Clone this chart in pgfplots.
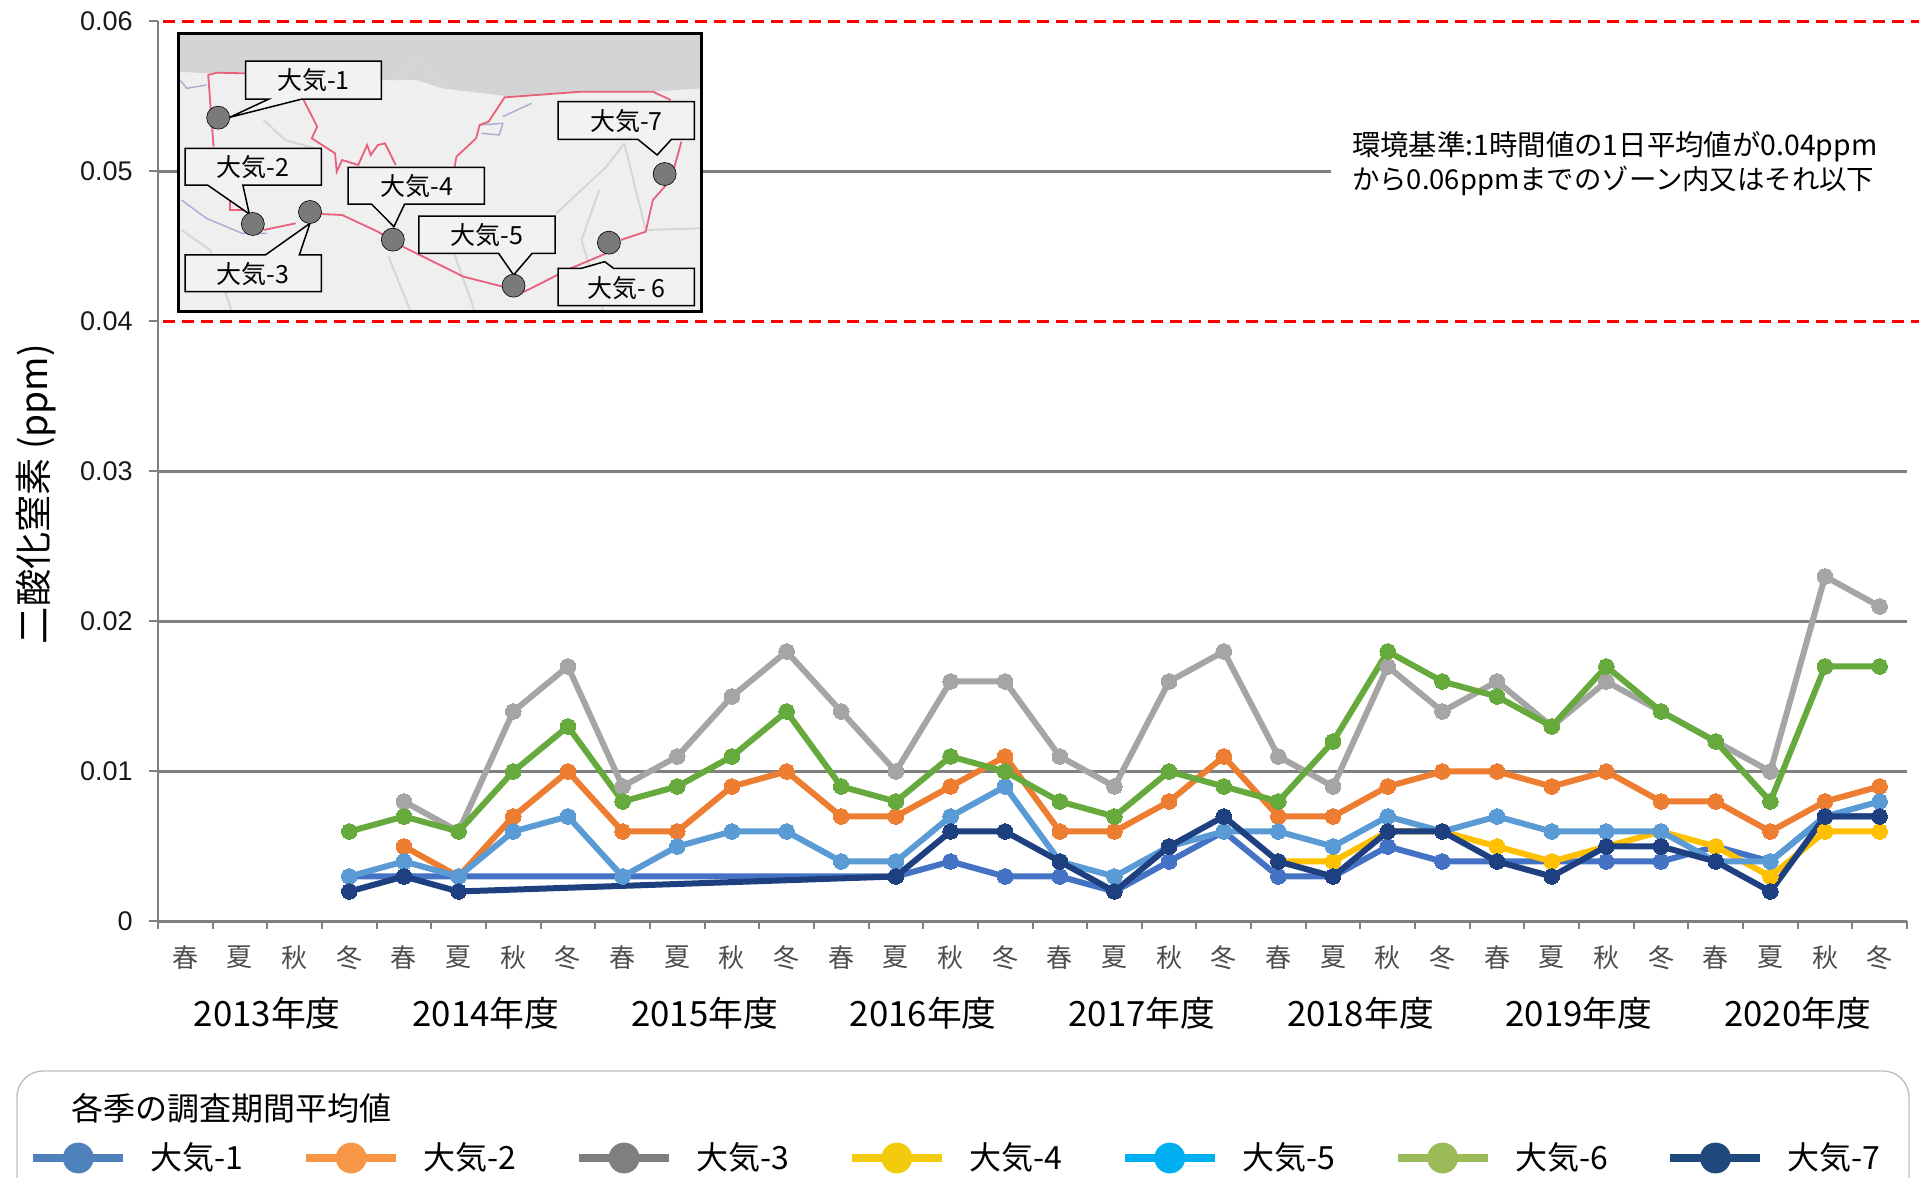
\documentclass[border=0pt]{standalone}
\usepackage{fontspec}
\usepackage{pgfplots}
\pgfplotsset{compat=1.18}
\setmainfont{Noto Sans CJK JP}
\newfontfamily\lib{Liberation Sans}

% one reference pixel = 0.5pt
\definecolor{cA}{HTML}{4472C4}
\definecolor{cB}{HTML}{ED7D31}
\definecolor{cC}{HTML}{A5A5A5}
\definecolor{cD}{HTML}{FFC000}
\definecolor{cE}{HTML}{5B9BD5}
\definecolor{cF}{HTML}{66A93C}
\definecolor{cG}{HTML}{1F4080}
\definecolor{gridc}{HTML}{808080}
\definecolor{redl}{HTML}{FF0000}
\definecolor{callout}{HTML}{F2F2F2}
\definecolor{land}{HTML}{EFEFEF}
\definecolor{sea}{HTML}{D3D4D6}
\definecolor{border}{HTML}{E8607A}
\definecolor{road}{HTML}{D6D6D6}
\definecolor{river}{HTML}{A8ACD0}

\pgfplotsset{
  ser/.style={forget plot,color=#1,line width=3pt,mark=*,mark size=3.9pt,
    mark options={draw=#1,fill=#1,line width=0pt,solid}},
  gl/.style={forget plot,color=gridc,line width=1.1pt,no markers},
  rl/.style={forget plot,color=redl,line width=1.5pt,no markers,dash pattern=on 6pt off 3.5pt},
}

\begin{document}
\begin{tikzpicture}
\useasboundingbox (-79pt,-128.25pt) rectangle (880.5pt,460.75pt);

% legend frame, in reference pixels
\begin{scope}[shift={(-79pt,460.75pt)},x=0.5pt,y=-0.5pt]
  \draw[color=black!25,line width=0.7pt,rounded corners=13pt] (17,1178) -- (17,1071) -- (1909,1071) -- (1909,1178);
  \node[anchor=west,inner sep=0pt,font=\fontsize{16}{18}\selectfont] at (71,1108) {各季の調査期間平均値};
\end{scope}

\begin{axis}[
    at={(0pt,0pt)},anchor=south west,
    scale only axis,
    width=874.5pt,height=450pt,
    xmin=-0.5,xmax=31.5,
    ymin=0,ymax=0.06,
    clip=false,
    axis x line*=bottom,
    axis y line*=left,
    axis line style={-,color=gridc,line width=1.1pt},
    tick align=outside,
    major tick length=4.5pt,
    minor tick length=4pt,
    tick style={color=gridc,line width=1pt},
    major x tick style={draw=none},
    xtick={0,...,31},
    xticklabels={春,夏,秋,冬,春,夏,秋,冬,春,夏,秋,冬,春,夏,秋,冬,春,夏,秋,冬,春,夏,秋,冬,春,夏,秋,冬,春,夏,秋,冬},
    minor xtick={-0.5,0.5,...,31.5},
    xticklabel style={font=\fontsize{13}{15}\selectfont,text=black!70,inner sep=0pt,yshift=-7.5pt},
    ytick={0,0.01,0.02,0.03,0.04,0.05,0.06},
    yticklabels={0,0.01,0.02,0.03,0.04,0.05,0.06},
    yticklabel style={font=\lib\fontsize{13.5}{15}\selectfont,text=black!90,inner sep=0pt,xshift=-8pt},
    scaled y ticks=false,
    ylabel={二酸化窒素 (ppm)},
    every axis y label/.style={at={(axis description cs:-0.0698,0.475)},rotate=90,anchor=center,font=\fontsize{18.6}{21}\selectfont},
    legend columns=7,
    legend cell align=left,
    legend image code/.code={
      \draw[#1,line width=4pt] (0pt,0pt) -- (45pt,0pt);
      \fill[#1] (22.5pt,0pt) circle (7.5pt);
    },
    legend style={at={(axis description cs:-0.0738,-0.2628)},anchor=west,draw=none,fill=none,
      inner sep=0pt,font=\fontsize{16}{18}\selectfont,
      nodes={inner sep=0pt},
      /tikz/every even column/.append style={column sep=29.3pt},
      /tikz/every odd column/.append style={column sep=11.7pt}},
]
% grid lines, the ones at 0.04 and 0.06 are the red limits
\addplot[gl] coordinates {(-0.5,0.01) (31.5,0.01)};
\addplot[gl] coordinates {(-0.5,0.02) (31.5,0.02)};
\addplot[gl] coordinates {(-0.5,0.03) (31.5,0.03)};
\addplot[gl] coordinates {(-0.5,0.05) (20.96,0.05)};
\addplot[rl] coordinates {(-0.41,0.06) (31.72,0.06)};
\addplot[rl] coordinates {(-0.41,0.04) (31.72,0.04)};

% 大気-1
\addplot[ser=cA] coordinates {(3,0.003)(4,0.003)(5,0.003)(13,0.003)(14,0.004)(15,0.003)(16,0.003)(17,0.002)(18,0.004)(19,0.006)(20,0.003)(21,0.003)(22,0.005)(23,0.004)(24,0.004)(25,0.004)(26,0.004)(27,0.004)(28,0.005)(29,0.004)(30,0.007)(31,0.007)};
% 大気-2
\addplot[ser=cB] coordinates {(4,0.005)(5,0.003)(6,0.007)(7,0.010)(8,0.006)(9,0.006)(10,0.009)(11,0.010)(12,0.007)(13,0.007)(14,0.009)(15,0.011)(16,0.006)(17,0.006)(18,0.008)(19,0.011)(20,0.007)(21,0.007)(22,0.009)(23,0.010)(24,0.010)(25,0.009)(26,0.010)(27,0.008)(28,0.008)(29,0.006)(30,0.008)(31,0.009)};
% 大気-3
\addplot[ser=cC] coordinates {(4,0.008)(5,0.006)(6,0.014)(7,0.017)(8,0.009)(9,0.011)(10,0.015)(11,0.018)(12,0.014)(13,0.010)(14,0.016)(15,0.016)(16,0.011)(17,0.009)(18,0.016)(19,0.018)(20,0.011)(21,0.009)(22,0.017)(23,0.014)(24,0.016)(25,0.013)(26,0.016)(27,0.014)(28,0.012)(29,0.010)(30,0.023)(31,0.021)};
% 大気-4
\addplot[ser=cD] coordinates {(20,0.004)(21,0.004)(22,0.006)(23,0.006)(24,0.005)(25,0.004)(26,0.005)(27,0.006)(28,0.005)(29,0.003)(30,0.006)(31,0.006)};
% 大気-5
\addplot[ser=cE] coordinates {(3,0.003)(4,0.004)(5,0.003)(6,0.006)(7,0.007)(8,0.003)(9,0.005)(10,0.006)(11,0.006)(12,0.004)(13,0.004)(14,0.007)(15,0.009)(16,0.004)(17,0.003)(18,0.005)(19,0.006)(20,0.006)(21,0.005)(22,0.007)(23,0.006)(24,0.007)(25,0.006)(26,0.006)(27,0.006)(28,0.004)(29,0.004)(30,0.007)(31,0.008)};
% 大気-6
\addplot[ser=cF] coordinates {(3,0.006)(4,0.007)(5,0.006)(6,0.010)(7,0.013)(8,0.008)(9,0.009)(10,0.011)(11,0.014)(12,0.009)(13,0.008)(14,0.011)(15,0.010)(16,0.008)(17,0.007)(18,0.010)(19,0.009)(20,0.008)(21,0.012)(22,0.018)(23,0.016)(24,0.015)(25,0.013)(26,0.017)(27,0.014)(28,0.012)(29,0.008)(30,0.017)(31,0.017)};
% 大気-7
\addplot[ser=cG] coordinates {(3,0.002)(4,0.003)(5,0.002)(13,0.003)(14,0.006)(15,0.006)(16,0.004)(17,0.002)(18,0.005)(19,0.007)(20,0.004)(21,0.003)(22,0.006)(23,0.006)(24,0.004)(25,0.003)(26,0.005)(27,0.005)(28,0.004)(29,0.002)(30,0.007)(31,0.007)};

% legend keys have their own colours
\addlegendimage{color={rgb,255:red,79;green,129;blue,189}}\addlegendentry{大気-1}
\addlegendimage{color={rgb,255:red,247;green,150;blue,70}}\addlegendentry{大気-2}
\addlegendimage{color={rgb,255:red,127;green,127;blue,127}}\addlegendentry{大気-3}
\addlegendimage{color={rgb,255:red,242;green,204;blue,12}}\addlegendentry{大気-4}
\addlegendimage{color={rgb,255:red,0;green,176;blue,240}}\addlegendentry{大気-5}
\addlegendimage{color={rgb,255:red,155;green,187;blue,89}}\addlegendentry{大気-6}
\addlegendimage{color={rgb,255:red,31;green,73;blue,125}}\addlegendentry{大気-7}

\node[font=\fontsize{17.4}{19}\selectfont] at (axis cs:1.5,-0.00613) {2013年度};
\node[font=\fontsize{17.4}{19}\selectfont] at (axis cs:5.5,-0.00613) {2014年度};
\node[font=\fontsize{17.4}{19}\selectfont] at (axis cs:9.5,-0.00613) {2015年度};
\node[font=\fontsize{17.4}{19}\selectfont] at (axis cs:13.5,-0.00613) {2016年度};
\node[font=\fontsize{17.4}{19}\selectfont] at (axis cs:17.5,-0.00613) {2017年度};
\node[font=\fontsize{17.4}{19}\selectfont] at (axis cs:21.5,-0.00613) {2018年度};
\node[font=\fontsize{17.4}{19}\selectfont] at (axis cs:25.5,-0.00613) {2019年度};
\node[font=\fontsize{17.4}{19}\selectfont] at (axis cs:29.5,-0.00613) {2020年度};

\node[anchor=west,inner sep=0pt,font=\fontsize{14.2}{16}\selectfont] at (axis cs:21.34,0.05163) {環境基準:1時間値の1日平均値が0.04ppm};
\node[anchor=west,inner sep=0pt,font=\fontsize{13.7}{16}\selectfont] at (axis cs:21.34,0.04937) {から0.06ppmまでのゾーン内又はそれ以下};
\end{axis}

% inset map, coordinates as in a 1568x960 view of the region (160,10)-(720,330)
\begin{axis}[
    at={(1pt,295.75pt)},anchor=south west,
    scale only axis,
    width=280pt,height=160pt,
    xmin=0,xmax=1568,ymin=0,ymax=960,
    y dir=reverse,
    hide axis,
    clip=false,
]
\fill[land] (52,70) rectangle (1516,905);
\fill[sea] (52,70) -- (1516,70) -- (1516,235) -- (1380,245) -- (1180,245) -- (970,258) -- (790,235) -- (720,210) -- (640,210) -- (240,185) -- (135,190) -- (52,185) -- cycle;
% roads
\addplot[forget plot,color=road,line width=1pt,no markers] coordinates {(1516,655)(1360,660)(1300,400)};
\addplot[forget plot,color=road,line width=1pt,no markers] coordinates {(1230,540)(1180,690)(1240,900)};
\addplot[forget plot,color=road,line width=1pt,no markers] coordinates {(1110,610)(1250,470)(1300,400)};
\addplot[forget plot,color=road,line width=1pt,no markers] coordinates {(60,660)(140,720)(200,900)};
\addplot[forget plot,color=road,line width=1pt,no markers] coordinates {(640,740)(700,900)};
\addplot[forget plot,color=road,line width=1pt,no markers] coordinates {(290,330)(350,390)(450,420)};
\addplot[forget plot,color=road,line width=1pt,no markers] coordinates {(820,720)(880,900)};
\addplot[forget plot,color=road,line width=1pt,no markers] coordinates {(660,210)(720,140)(790,230)};
% rivers
\addplot[forget plot,color=river,line width=0.7pt,no markers] coordinates {(52,205)(75,235)(130,225)};
\addplot[forget plot,color=river,line width=0.7pt,no markers] coordinates {(60,570)(130,625)(230,670)(300,670)};
\addplot[forget plot,color=river,line width=0.7pt,no markers] coordinates {(895,345)(960,340)(950,375)(900,370)};
\addplot[forget plot,color=river,line width=0.7pt,no markers] coordinates {(960,320)(1040,280)};
% city border
\addplot[forget plot,color=border,line width=0.9pt,no markers] coordinates {(150,410)(135,195)(160,188)(240,190)};
\addplot[forget plot,color=border,line width=0.9pt,no markers] coordinates {(400,265)(440,350)(425,385)(490,430)(495,485)(510,450)(555,465)(580,405)(590,435)(610,405)(630,400)(660,465)};
\addplot[forget plot,color=border,line width=0.9pt,no markers] coordinates {(825,470)(830,440)(885,385)(895,345)(920,335)(965,262)(1180,245)(1380,245)(1430,270)};
\addplot[forget plot,color=border,line width=0.9pt,no markers] coordinates {(1460,395)(1430,510)(1380,570)(1360,665)(1290,690)};
\addplot[forget plot,color=border,line width=0.9pt,no markers] coordinates {(1250,730)(1150,775)(1020,845)(960,830)(850,800)(680,710)(610,665)(510,615)(450,612)};
\addplot[forget plot,color=border,line width=0.9pt,no markers] coordinates {(380,640)(290,660)};
\addplot[forget plot,color=border,line width=0.9pt,no markers] coordinates {(250,600)(195,600)(195,570)};
% stations
\addplot[forget plot,only marks,mark=*,mark size=5.75pt,mark options={fill=black!52,draw=black,line width=0.3pt}] coordinates {(163,323)(260,642)(420,606)(652,689)(990,827)(1257,698)(1413,492)};
% callouts
\tikzset{co/.style={fill=callout,draw=black,line width=0.75pt,line join=miter},
  cot/.style={font=\fontsize{12.5}{14}\selectfont,inner sep=0pt}}
\draw[co] (240,153) -- (620,153) -- (620,267) -- (398,267) -- (195,322) -- (305,267) -- (240,267) -- cycle;
\node[cot] at (430,210) {大気-1};
\draw[co] (70,415) -- (452,415) -- (452,525) -- (232,525) -- (250,612) -- (133,525) -- (70,525) -- cycle;
\node[cot] at (261,472) {大気-2};
\draw[co] (70,735) -- (295,735) -- (420,640) -- (390,735) -- (452,735) -- (452,845) -- (70,845) -- cycle;
\node[cot] at (261,792) {大気-3};
\draw[co] (527,472) -- (908,472) -- (908,582) -- (685,582) -- (655,650) -- (592,582) -- (527,582) -- cycle;
\node[cot] at (720,529) {大気-4};
\draw[co] (725,618) -- (1106,618) -- (1106,730) -- (1042,730) -- (990,795) -- (948,730) -- (725,730) -- cycle;
\node[cot] at (916,676) {大気-5};
\draw[co] (1115,775) -- (1180,775) -- (1245,755) -- (1270,775) -- (1496,775) -- (1496,887) -- (1115,887) -- cycle;
\node[cot] at (1306,834) {大気- 6};
\draw[co] (1115,275) -- (1496,275) -- (1496,388) -- (1432,388) -- (1392,435) -- (1338,388) -- (1115,388) -- cycle;
\node[cot] at (1306,332) {大気-7};
\draw[black,line width=1.25pt] (52,70) rectangle (1516,905);
\end{axis}
\end{tikzpicture}
\end{document}
